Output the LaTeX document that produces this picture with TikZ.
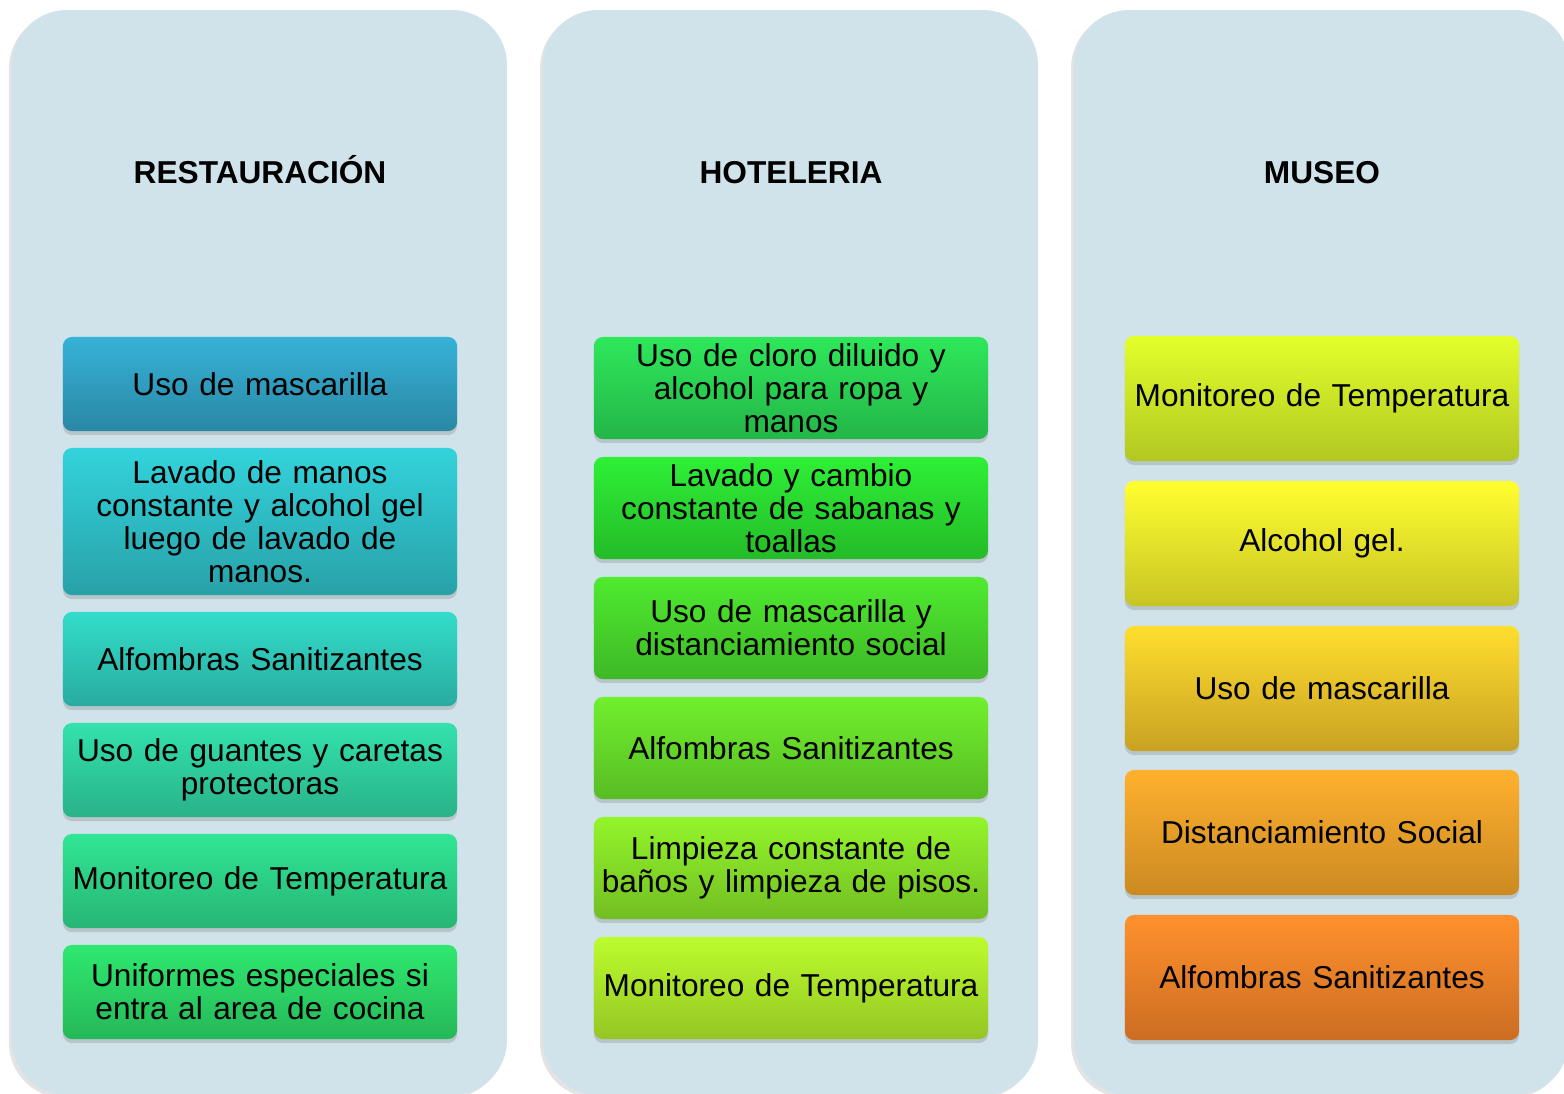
\documentclass[tikz,border=0pt]{standalone}
\usepackage{fontspec}
\setmainfont{Liberation Sans}
\usetikzlibrary{shadows}
\definecolor{panelbg}{HTML}{D0E3EA}
% Restauracion colours
\definecolor{restAt}{HTML}{36B2D8}\definecolor{restAb}{HTML}{2A87A4}
\definecolor{restBt}{HTML}{33D3DC}\definecolor{restBb}{HTML}{28A1A8}
\definecolor{restCt}{HTML}{33DDC9}\definecolor{restCb}{HTML}{28ABA0}
\definecolor{restDt}{HTML}{33E2AE}\definecolor{restDb}{HTML}{29B289}
\definecolor{restEt}{HTML}{30E694}\definecolor{restEb}{HTML}{27B575}
\definecolor{restFt}{HTML}{2FE86F}\definecolor{restFb}{HTML}{25B858}
% Hoteleria colours
\definecolor{hotAt}{HTML}{2EE85A}\definecolor{hotAb}{HTML}{24B548}
\definecolor{hotBt}{HTML}{2EF036}\definecolor{hotBb}{HTML}{24BB28}
\definecolor{hotCt}{HTML}{4FEB2F}\definecolor{hotCb}{HTML}{3EB826}
\definecolor{hotDt}{HTML}{70F02D}\definecolor{hotDb}{HTML}{58BC24}
\definecolor{hotEt}{HTML}{93F52B}\definecolor{hotEb}{HTML}{72BE22}
\definecolor{hotFt}{HTML}{BCFC2D}\definecolor{hotFb}{HTML}{94C624}
% Museo colours
\definecolor{musAt}{HTML}{E2FF2A}\definecolor{musAb}{HTML}{B2C822}
\definecolor{musBt}{HTML}{FFFF2F}\definecolor{musBb}{HTML}{C8C424}
\definecolor{musCt}{HTML}{FFDE2D}\definecolor{musCb}{HTML}{C9A123}
\definecolor{musDt}{HTML}{FFB02E}\definecolor{musDb}{HTML}{CB8A22}
\definecolor{musEt}{HTML}{FF912D}\definecolor{musEb}{HTML}{CC6D22}

\begin{document}
\begin{tikzpicture}[x=0.01cm, y=-0.01cm,
    panel/.style={fill=panelbg, rounded corners=0.55cm,
      drop shadow={opacity=0.22, shadow xshift=-0.03cm, shadow yshift=-0.03cm}},
    heading/.style={font=\fontsize{9}{10}\selectfont\bfseries, anchor=base},
    item/.style={rectangle, rounded corners=0.09cm, minimum width=3.94cm,
      text width=3.9cm, align=center, inner sep=0pt,
      font=\fontsize{9}{9.4}\selectfont,
      drop shadow={opacity=0.3, shadow xshift=0cm, shadow yshift=-0.04cm}},
    shade2/.style={top color=#1t, bottom color=#1b}]

    \useasboundingbox (0,0) rectangle (1564,1093);

    % Background panels
    \fill[panel] (12,10) rectangle (507,1095);
    \fill[panel] (543,10) rectangle (1038,1095);
    \fill[panel] (1074,10) rectangle (1569,1095);

    % Headings
    \node[heading] (rest) at (260,183) {RESTAURACIÓN};
    \node[heading] (hotel) at (791,183) {HOTELERIA};
    \node[heading] (museo) at (1322,183) {MUSEO};

    % Restauracion
    \node[item, minimum height=0.94cm, shade2=restA]
        (rest-masc) at (260,384) {Uso de mascarilla};
    \node[item, minimum height=1.47cm, shade2=restB]
        (rest-lavado) at (260,521.5) {Lavado de manos\\constante y alcohol gel\\luego de lavado de\\manos.};
    \node[item, minimum height=0.94cm, shade2=restC]
        (rest-alfombra) at (260,659) {Alfombras Sanitizantes};
    \node[item, minimum height=0.94cm, shade2=restD]
        (rest-guantes) at (260,770) {Uso de guantes y caretas\\protectoras};
    \node[item, minimum height=0.94cm, shade2=restE]
        (rest-temp) at (260,881) {Monitoreo de Temperatura};
    \node[item, minimum height=0.94cm, shade2=restF]
        (rest-unif) at (260,992) {Uniformes especiales si\\entra al area de cocina};

    % Hoteleria
    \node[item, minimum height=1.02cm, shade2=hotA]
        (hotel-cloro) at (791,388) {Uso de cloro diluido y\\alcohol para ropa y\\manos};
    \node[item, minimum height=1.02cm, shade2=hotB]
        (hotel-sabanas) at (791,508) {Lavado y cambio\\constante de sabanas y\\toallas};
    \node[item, minimum height=1.02cm, shade2=hotC]
        (hotel-masc) at (791,628) {Uso de mascarilla y\\distanciamiento social};
    \node[item, minimum height=1.02cm, shade2=hotD]
        (hotel-alfombra) at (791,748) {Alfombras Sanitizantes};
    \node[item, minimum height=1.02cm, shade2=hotE]
        (hotel-banos) at (791,868) {Limpieza constante de\\baños y limpieza de pisos.};
    \node[item, minimum height=1.02cm, shade2=hotF]
        (hotel-temp) at (791,988) {Monitoreo de Temperatura};

    % Museo
    \node[item, minimum height=1.25cm, shade2=musA]
        (museo-temp) at (1322,398.5) {Monitoreo de Temperatura};
    \node[item, minimum height=1.25cm, shade2=musB]
        (museo-alcohol) at (1322,543.5) {Alcohol gel.};
    \node[item, minimum height=1.25cm, shade2=musC]
        (museo-masc) at (1322,688.5) {Uso de mascarilla};
    \node[item, minimum height=1.25cm, shade2=musD]
        (museo-dist) at (1322,832.5) {Distanciamiento Social};
    \node[item, minimum height=1.25cm, shade2=musE]
        (museo-alfombra) at (1322,977.5) {Alfombras Sanitizantes};
\end{tikzpicture}
\end{document}
